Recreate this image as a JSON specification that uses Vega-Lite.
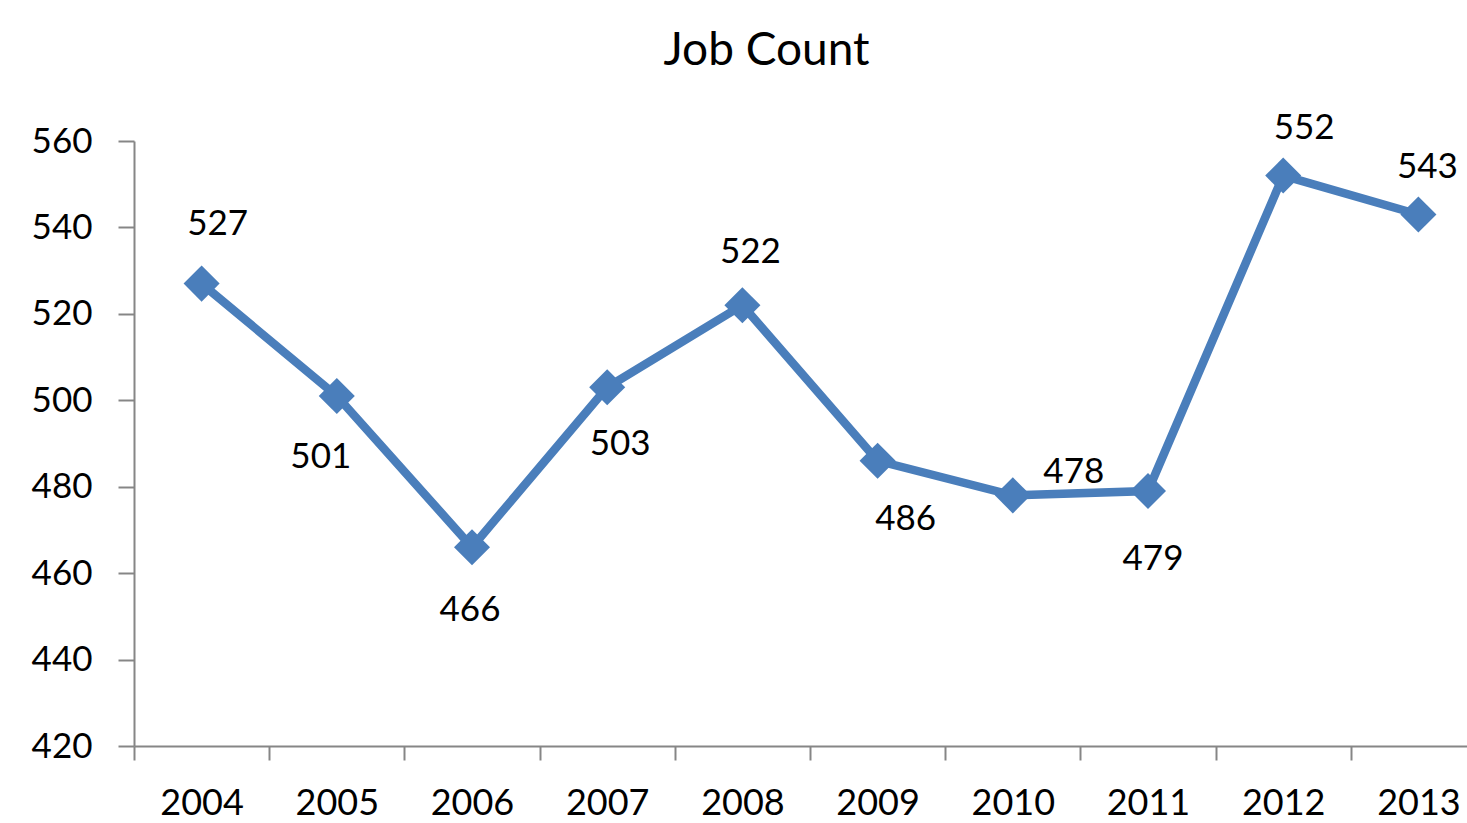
{
  "$schema": "https://vega.github.io/schema/vega-lite/v6.json",
  "autosize": "none",
  "width": 1333,
  "height": 605,
  "padding": {"left": 134, "top": 141, "right": 0, "bottom": 77},
  "background": "white",
  "config": {
    "view": {"stroke": null},
    "font": "Lato"
  },
  "title": {
    "text": "Job Count",
    "fontSize": 46,
    "font": "Lato",
    "fontWeight": "normal",
    "color": "black",
    "anchor": "middle",
    "dx": -34,
    "baseline": "alphabetic",
    "offset": 0
  },
  "data": {
    "values": [
      {"year": "2004", "count": 527},
      {"year": "2005", "count": 501},
      {"year": "2006", "count": 466},
      {"year": "2007", "count": 503},
      {"year": "2008", "count": 522},
      {"year": "2009", "count": 486},
      {"year": "2010", "count": 478},
      {"year": "2011", "count": 479},
      {"year": "2012", "count": 552},
      {"year": "2013", "count": 543}
    ]
  },
  "encoding": {
    "x": {
      "field": "year",
      "type": "ordinal",
      "scale": {"type": "band", "range": [0, 1352], "paddingInner": 0, "paddingOuter": 0},
      "axis": {
        "title": null,
        "labelAngle": 0,
        "labelFontSize": 36,
        "labelColor": "black",
        "labelFont": "Lato",
        "labelPadding": 26,
        "tickBand": "extent",
        "tickSize": 14,
        "tickColor": "#868686",
        "tickWidth": 2,
        "domainColor": "#868686",
        "domainWidth": 2,
        "grid": false
      }
    },
    "y": {
      "field": "count",
      "type": "quantitative",
      "scale": {"domain": [420, 560], "nice": false, "zero": false},
      "axis": {
        "title": null,
        "values": [420, 440, 460, 480, 500, 520, 540, 560],
        "labelFontSize": 35,
        "labelColor": "black",
        "labelFont": "Lato",
        "labelPadding": 26,
        "tickSize": 16,
        "tickColor": "#868686",
        "tickWidth": 2,
        "domainColor": "#868686",
        "domainWidth": 2,
        "grid": false
      }
    }
  },
  "layer": [
    {"mark": {"type": "line", "color": "#4A7EBB", "strokeWidth": 8.5}},
    {"mark": {"type": "point", "shape": "diamond", "filled": true, "color": "#4A7EBB", "opacity": 1, "size": 1300}},
    {"transform": [{"filter": "datum.year == '2004'"}], "mark": {"type": "text", "fontSize": 35, "font": "Lato", "color": "black", "baseline": "middle", "dx": 16, "dy": -60}, "encoding": {"text": {"field": "count"}}},
    {"transform": [{"filter": "datum.year == '2005'"}], "mark": {"type": "text", "fontSize": 35, "font": "Lato", "color": "black", "baseline": "middle", "dx": -16, "dy": 61}, "encoding": {"text": {"field": "count"}}},
    {"transform": [{"filter": "datum.year == '2006'"}], "mark": {"type": "text", "fontSize": 35, "font": "Lato", "color": "black", "baseline": "middle", "dx": -2, "dy": 63}, "encoding": {"text": {"field": "count"}}},
    {"transform": [{"filter": "datum.year == '2007'"}], "mark": {"type": "text", "fontSize": 35, "font": "Lato", "color": "black", "baseline": "middle", "dx": 13, "dy": 57}, "encoding": {"text": {"field": "count"}}},
    {"transform": [{"filter": "datum.year == '2008'"}], "mark": {"type": "text", "fontSize": 35, "font": "Lato", "color": "black", "baseline": "middle", "dx": 8, "dy": -53}, "encoding": {"text": {"field": "count"}}},
    {"transform": [{"filter": "datum.year == '2009'"}], "mark": {"type": "text", "fontSize": 35, "font": "Lato", "color": "black", "baseline": "middle", "dx": 28, "dy": 58}, "encoding": {"text": {"field": "count"}}},
    {"transform": [{"filter": "datum.year == '2010'"}], "mark": {"type": "text", "fontSize": 35, "font": "Lato", "color": "black", "baseline": "middle", "dx": 61, "dy": -23}, "encoding": {"text": {"field": "count"}}},
    {"transform": [{"filter": "datum.year == '2011'"}], "mark": {"type": "text", "fontSize": 35, "font": "Lato", "color": "black", "baseline": "middle", "dx": 5, "dy": 68}, "encoding": {"text": {"field": "count"}}},
    {"transform": [{"filter": "datum.year == '2012'"}], "mark": {"type": "text", "fontSize": 35, "font": "Lato", "color": "black", "baseline": "middle", "dx": 21, "dy": -48}, "encoding": {"text": {"field": "count"}}},
    {"transform": [{"filter": "datum.year == '2013'"}], "mark": {"type": "text", "fontSize": 35, "font": "Lato", "color": "black", "baseline": "middle", "dx": 9, "dy": -47}, "encoding": {"text": {"field": "count"}}}
  ]
}
